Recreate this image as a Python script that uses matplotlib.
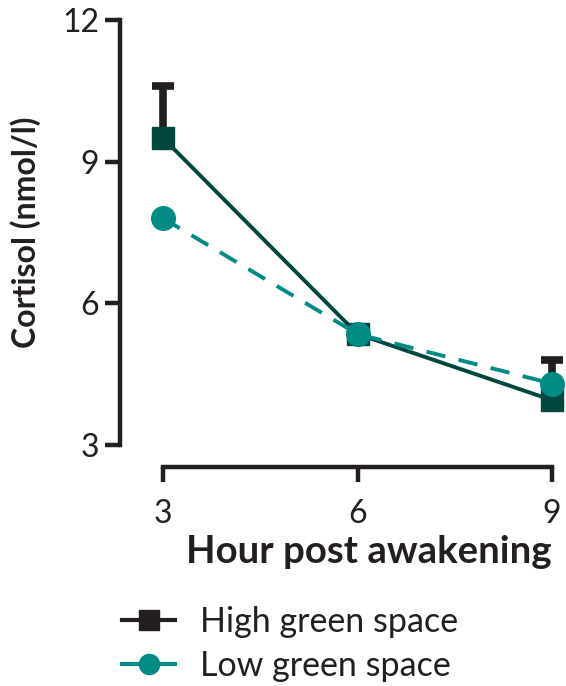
import matplotlib.pyplot as plt
from matplotlib.lines import Line2D

hours = [3, 6, 9]
high_green = [9.5, 5.35, 3.95]
high_err = [1.1, 0.0, 0.85]
low_green = [7.8, 5.35, 4.3]
yticks = [3, 6, 9, 12]

dark = '#00473E'
teal = '#008B84'
black = '#231F20'

plt.rcParams['font.family'] = ['Lato', 'DejaVu Sans']

fig = plt.figure(figsize=(5.66, 6.86), dpi=100)
ax = fig.add_axes([120 / 566, 1 - 445 / 686, 432 / 566, 425 / 686])

# error bars (upper only), drawn first so markers sit on top
ax.errorbar(hours, high_green, yerr=[[0, 0, 0], high_err], fmt='none',
            ecolor=black, elinewidth=5.5, capsize=8, capthick=5.5, clip_on=False, zorder=2)
ax.plot(hours, high_green, color=dark, lw=2.8, marker='s', ms=16.5, clip_on=False, zorder=3)
ax.plot(hours, low_green, color=teal, lw=2.8, ls=(0, (5, 3.5)), marker='o', ms=17,
        clip_on=False, zorder=4)

ax.set_xlim(2.336, 9)
ax.set_ylim(3, 12)
ax.set_xticks(hours)
ax.set_yticks(yticks)

for s in ['top', 'right']:
    ax.spines[s].set_visible(False)
for s in ['left', 'bottom']:
    ax.spines[s].set_linewidth(3.2)
    ax.spines[s].set_color(black)
ax.spines['bottom'].set_position(('outward', 16))
ax.spines['bottom'].set_bounds(3, 9)

ax.tick_params(axis='both', length=11, width=3.2, color=black, labelsize=23,
               labelcolor=black)
ax.tick_params(axis='x', pad=12)
ax.tick_params(axis='y', pad=4)

ax.set_ylabel('Cortisol (nmol/l)', fontsize=23, fontweight='bold', color=black, labelpad=15)
ax.set_xlabel('Hour post awakening', fontsize=27.6, fontweight='bold', color=black)
ax.xaxis.set_label_coords(0.576, -0.212)

handles = [
    Line2D([], [], color=black, lw=3, marker='s', ms=14.5),
    Line2D([], [], color=teal, lw=3, marker='o', ms=14.5),
]
fig.legend(handles, ['High green space', 'Low green space'], loc='upper left',
           bbox_to_anchor=(122 / 566, 1 - 606 / 686), frameon=False, fontsize=24.5,
           handlelength=1.56, handletextpad=0.72, labelspacing=0.36,
           borderpad=0, borderaxespad=0, labelcolor=black)

fig.savefig('out.png', dpi=100)
